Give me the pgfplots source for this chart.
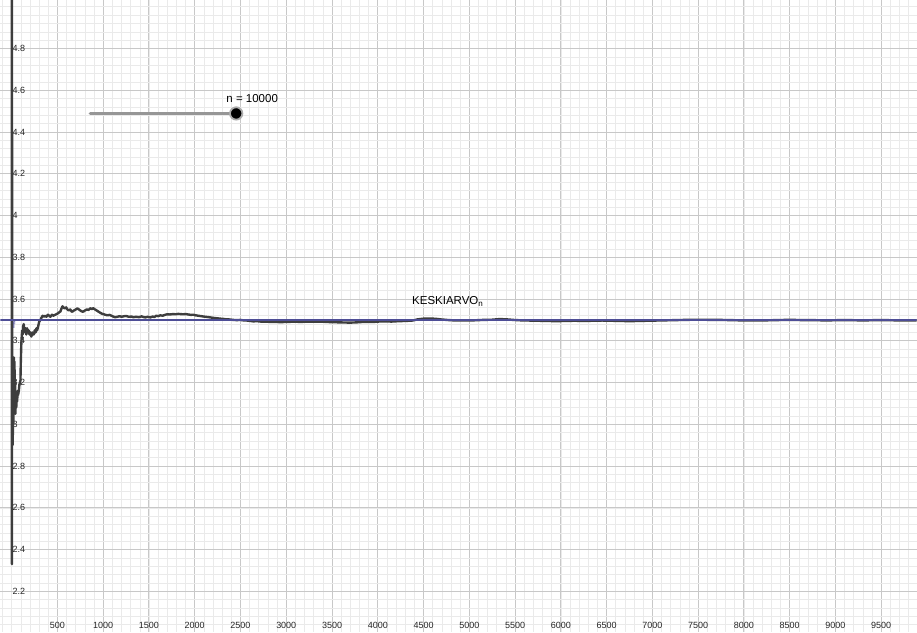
\documentclass[border=0pt]{standalone}
\usepackage{pgfplots}
\pgfplotsset{compat=1.18}
\usepackage{fontspec}
\setmainfont{Liberation Sans}
\definecolor{curvecol}{RGB}{62,62,62}
\definecolor{fblue}{RGB}{78,78,150}
\definecolor{slidergray}{RGB}{150,150,150}
\definecolor{majgrid}{RGB}{200,200,200}
\definecolor{mingrid}{RGB}{234,234,234}
\begin{document}
\begin{tikzpicture}
\begin{axis}[
  scale only axis,
  width=917pt, height=632pt,
  xmin=-122, xmax=9886,
  ymin=2.006, ymax=5.03,
  axis line style={draw=none},
  tick style={draw=none},
  xtick={500,1000,...,9500},
  ytick={2.2,2.4,2.6,2.8,3,3.2,3.4,3.6,3.8,4,4.2,4.4,4.6,4.8},
  minor xtick={-100,0,...,9900},
  minor ytick={2.04,2.08,...,5.02},
  grid=both,
  major grid style={color=majgrid, line width=1.0pt},
  minor grid style={color=mingrid, line width=0.6pt},
  scaled ticks=false,
  /pgf/number format/1000 sep={},
  /pgf/number format/assume math mode=true,
  xticklabel style={anchor=south, inner sep=0pt, yshift=3pt, font=\fontsize{9}{10}\selectfont, text=black!85},
  yticklabel style={anchor=west, inner sep=0pt, xshift=12pt, font=\fontsize{9}{10}\selectfont, text=black!85},
]
% running mean curve (KESKIARVO_n)
\addplot[curvecol, line width=2.4pt, line join=round] coordinates {
(1,6.0) (2,4.0) (3,2.33) (4,3.5) (5,4.4) (6,3.67) (7,3.0) (8,3.25)
(10,2.9) (12,3.15) (14,2.95) (16,3.2) (18,3.0) (20,3.27) (22,3.1) (25,3.32)
(28,3.12) (31,3.3) (34,3.08) (38,3.2) (41,3.05) (45,3.13) (50,3.08) (55,3.12)
(60,3.11) (65,3.16) (70,3.14) (78,3.16) (85,3.19) (96,3.21) (100,3.3) (105,3.38)
(110,3.42) (115,3.45) (120,3.43) (126,3.47) (132,3.48) (138,3.45) (145,3.44) (152,3.46)
(160,3.43) (169,3.46) (176,3.44) (185,3.45) (195,3.43) (205,3.44) (215,3.42) (225,3.44)
(235,3.43) (242,3.43) (252,3.45) (262,3.44) (270,3.46) (278,3.45) (290,3.47) (300,3.49)
(314,3.50) (325,3.51) (338,3.52) (352,3.515) (365,3.52) (380,3.515) (395,3.525) (410,3.52)
(423,3.515) (440,3.525) (455,3.52) (478,3.525) (500,3.53) (515,3.535) (532,3.54) (545,3.555)
(555,3.565) (565,3.56) (580,3.555) (595,3.56) (609,3.55) (625,3.545) (640,3.55) (655,3.54)
(664,3.54) (680,3.545) (700,3.55) (718,3.555) (735,3.55) (750,3.545) (770,3.54) (784,3.54)
(800,3.545) (820,3.55) (840,3.548) (860,3.556) (875,3.552) (893,3.556) (910,3.55) (930,3.545)
(947,3.54) (965,3.535) (985,3.53) (1000,3.528) (1020,3.525) (1046,3.522) (1070,3.524) (1090,3.52)
(1110,3.516) (1130,3.513) (1155,3.515) (1180,3.518) (1200,3.515) (1220,3.517) (1250,3.519) (1280,3.515)
(1310,3.516) (1329,3.513) (1360,3.515) (1390,3.513) (1420,3.517) (1438,3.514) (1460,3.512) (1490,3.515)
(1515,3.512) (1540,3.516) (1560,3.514) (1580,3.52) (1600,3.518) (1624,3.522) (1650,3.52) (1680,3.525)
(1700,3.527) (1730,3.526) (1760,3.528) (1790,3.527) (1820,3.529) (1842,3.528) (1870,3.527) (1900,3.528)
(1930,3.526) (1960,3.524) (1984,3.525) (2010,3.522) (2040,3.52) (2070,3.518) (2100,3.516) (2137,3.514)
(2170,3.512) (2200,3.51) (2240,3.508) (2279,3.506) (2310,3.505) (2340,3.503) (2388,3.502) (2420,3.5)
(2460,3.499) (2497,3.5) (2530,3.498) (2570,3.497) (2606,3.495) (2640,3.493) (2680,3.494) (2720,3.492)
(2748,3.491) (2790,3.492) (2830,3.49) (2880,3.491) (2934,3.489) (2980,3.49) (3050,3.491) (3100,3.492)
(3150,3.49) (3228,3.492) (3300,3.491) (3380,3.492) (3450,3.49) (3520,3.489) (3600,3.488) (3698,3.487)
(3760,3.488) (3830,3.49) (3900,3.491) (3949,3.49) (4000,3.492) (4080,3.493) (4150,3.492) (4230,3.494)
(4300,3.495) (4380,3.497) (4440,3.503) (4500,3.506) (4571,3.507) (4640,3.505) (4700,3.502) (4780,3.499)
(4860,3.497) (4950,3.497) (5050,3.498) (5150,3.5) (5250,3.501) (5330,3.504) (5400,3.503) (5480,3.5)
(5560,3.498) (5650,3.497) (5750,3.496) (5850,3.495) (5950,3.494) (6050,3.495) (6150,3.496) (6250,3.495)
(6350,3.496) (6450,3.497) (6550,3.496) (6650,3.495) (6750,3.494) (6850,3.495) (6950,3.496) (7050,3.497)
(7150,3.498) (7250,3.499) (7350,3.5) (7450,3.501) (7550,3.501) (7650,3.5) (7750,3.5) (7850,3.499)
(7950,3.498) (8050,3.498) (8150,3.497) (8250,3.498) (8350,3.499) (8450,3.5) (8550,3.5) (8650,3.499)
(8750,3.499) (8850,3.498) (8950,3.498) (9050,3.499) (9150,3.499) (9250,3.498) (9350,3.498) (9450,3.499)
(9550,3.499) (9650,3.498) (9750,3.498) (9850,3.498) (9950,3.498) (10000,3.498)
};
% f(x) = 3.5
\addplot[fblue, line width=1.7pt] coordinates {(-200,3.5) (10000,3.5)};
% slider
\addplot[slidergray, line width=3.6pt, line cap=round] coordinates {(860,4.489) (2453,4.489)};
\addplot[only marks, mark=*, mark size=6.2pt, mark options={fill=black, draw=gray!65, line width=1.8pt}] coordinates {(2453,4.489)};
\node[font=\fontsize{11.5}{12}\selectfont, text=black] at (axis cs:2628,4.561) {n = 10000};
\node[anchor=base west, inner sep=0pt, font=\fontsize{11.5}{12}\selectfont] at (axis cs:4374,3.572) {KESKIARVO\textsubscript{n}};
\node[anchor=west, inner sep=0pt, font=\fontsize{10}{11}\selectfont, text=fblue] at (axis cs:8,3.475) {f};
\end{axis}
\end{tikzpicture}
\end{document}
